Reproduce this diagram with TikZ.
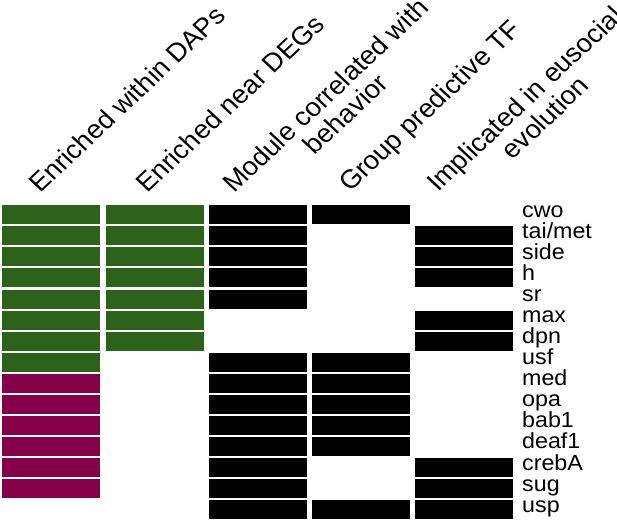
\documentclass[tikz,border=0pt]{standalone}
\usepackage{fontspec}
\setmainfont{Liberation Sans}
\definecolor{colG}{RGB}{44,98,26}
\definecolor{colM}{RGB}{133,0,72}
\definecolor{colK}{RGB}{0,0,0}
\newcommand{\twoline}[2]{\begin{tabular}[t]{@{}c@{}}#1\\#2\end{tabular}}
\begin{document}
\begin{tikzpicture}[x=1bp,y=-1bp,
  gene/.style={anchor=mid west, inner sep=0pt, xscale=1.065, font=\fontsize{21.9}{24}\selectfont},
  head/.style={anchor=base west, inner sep=0pt, xscale=1.065, rotate=45, font=\fontsize{26}{26.5}\selectfont}]
\useasboundingbox (0,0) rectangle (617,521);
\node[head] (h1) at (40,194) {Enriched within DAPs};
\node[head] (h2) at (147,194) {Enriched near DEGs};
\node[head] (h3) at (234,194) {\twoline{Module correlated with}{behavior}};
\node[head] (h4) at (350,193) {Group predictive TF};
\node[head] (h5) at (438,193) {\twoline{Implicated in eusocial}{evolution}};
\foreach \lab/\ca/\cb/\cc/\cd/\ce [count=\i from 0] in {
 cwo/G/G/K/K/N, {tai/met}/G/G/K/N/K, side/G/G/K/N/K, h/G/G/K/N/K, sr/G/G/K/N/N,
 max/G/G/N/N/K, dpn/G/G/N/N/K, usf/G/N/K/K/N, med/M/N/K/K/N, opa/M/N/K/K/N,
 bab1/M/N/K/K/N, deaf1/M/N/K/K/N, crebA/M/N/K/N/K, sug/M/N/K/N/K, usp/N/N/K/K/K}
{
  \pgfmathsetmacro\yt{205.3+21.05*\i}
  \foreach \cl [count=\j from 0] in {\ca,\cb,\cc,\cd,\ce}{
    \if\cl N\else
      \fill[col\cl] ({2.3+103.2*\j},\yt) rectangle ++(98,19);
    \fi
  }
  \node[gene] (g\i) at (522,\yt+9.5) {\lab};
}
\end{tikzpicture}
\end{document}
